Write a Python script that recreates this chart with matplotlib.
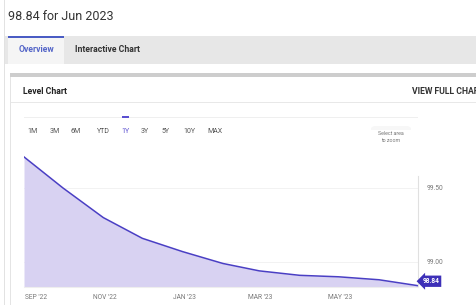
import pandas as pd
import matplotlib.pyplot as plt
import matplotlib.dates as mdates
from matplotlib.patches import Rectangle, FancyBboxPatch
import matplotlib.transforms as mtrans

plt.rcParams['font.family'] = ['Roboto', 'DejaVu Sans']

# monthly level, end of month
dates = pd.to_datetime(["2022-08-31", "2022-09-30", "2022-10-31", "2022-11-30",
                        "2022-12-31", "2023-01-31", "2023-02-28", "2023-03-31",
                        "2023-04-30", "2023-05-31", "2023-06-30"])
values = [99.71, 99.50, 99.30, 99.16, 99.07, 98.99, 98.94, 98.91, 98.90, 98.88, 98.84]
yticks = [99.00, 99.50]
ranges = ["1M", "3M", "6M", "YTD", "1Y", "3Y", "5Y", "10Y", "MAX"]
range_x = [33, 55, 76, 103, 125, 145, 166, 189, 215]

W, H = 477, 305
fig = plt.figure(figsize=(W / 100, H / 100), dpi=100)


def fx(x):
    return x / W


def fy(y):
    return 1 - y / H


def box(x0, y0, x1, y1, color):
    fig.add_artist(Rectangle((fx(x0), fy(y1)), fx(x1) - fx(x0), fy(y0) - fy(y1),
                             transform=fig.transFigure, color=color, lw=0, zorder=0))


# page chrome
box(4, 0, 5, H, "#e2e2e2")
box(5, 36, W, 64, "#e7e7e7")
box(8, 36, 64, 64, "#f5f5f5")
box(8, 36, 64, 38, "#4a5cc4")
box(10, 73, W, 77, "#cdcdcd")
box(10, 77, 11, H, "#e4e4e4")
box(11, 102, W, 103, "#e8e8e8")
box(24, 117, 418, 118, "#efefef")
box(122, 116, 129, 118, "#5b4fd0")

fig.text(fx(8), fy(16), "98.84 for Jun 2023", fontsize=9, color="#333333", va="center")
fig.text(fx(19), fy(50), "Overview", fontsize=6.2, color="#5566c8", fontweight="bold", va="center")
fig.text(fx(75), fy(50), "Interactive Chart", fontsize=6.2, color="#333333", fontweight="bold", va="center")
fig.text(fx(23), fy(91), "Level Chart", fontsize=6.2, color="#222222", fontweight="bold", va="center")
fig.text(fx(412), fy(91), "VIEW FULL CHART", fontsize=6.2, color="#333333", fontweight="bold", va="center")

for lab, x in zip(ranges, range_x):
    c = "#5b4fd0" if lab == "1Y" else "#555555"
    fig.text(fx(x), fy(132), lab, fontsize=5, color=c, ha="center", va="center")

fig.add_artist(FancyBboxPatch((fx(371), fy(148)), fx(40), fy(0) - fy(22),
                              boxstyle="round,pad=0,rounding_size=0.01",
                              transform=fig.transFigure, fc="#f7f7f7", ec="none", zorder=0))
fig.text(fx(391), fy(137), "Select area\nto zoom", fontsize=3.8, color="#777777",
         ha="center", va="center", linespacing=1.3)

# chart
top_px, bot_px = 130, 287
ax = fig.add_axes([fx(24), fy(bot_px), fx(418) - fx(24), fy(top_px) - fy(bot_px)])
ppu = 148.0
ylo = 99.50 - (bot_px - 188) / ppu
yhi = 99.50 + (188 - top_px) / ppu

ax.fill_between(dates, values, ylo, color="#d8d2f2", lw=0)
ax.plot(dates, values, color="#4a3fc4", lw=1.1, solid_joinstyle="round")
ax.set_xlim(dates[0], dates[-1])
ax.set_ylim(ylo, yhi)

ax.xaxis.set_major_locator(mdates.MonthLocator(bymonth=[1, 3, 5, 9, 11]))
ax.set_xticks(ax.get_xticks())
ax.set_xticklabels([mdates.num2date(v).strftime("%b '%y").upper() for v in ax.get_xticks()])
ax.tick_params(axis="x", length=0, labelsize=4.8, labelcolor="#777777", pad=5)
ax.get_xticklabels()[0].set_ha("left")

ax.yaxis.tick_right()
ax.set_yticks(yticks)
ax.set_yticklabels([f"{v:.2f}" for v in yticks])
ax.tick_params(axis="y", length=0, labelsize=4.8, labelcolor="#777777", pad=6)
ax.grid(axis="y", color="#f0f0f0", lw=0.6)
ax.set_axisbelow(True)

for s in ["top", "left"]:
    ax.spines[s].set_visible(False)
ax.spines["right"].set_color("#e0e0e0")
ax.spines["right"].set_linewidth(0.8)
ax.spines["right"].set_bounds(ylo, 99.50 + (188 - 176) / ppu)
ax.spines["bottom"].set_color("#eeeeee")
ax.spines["bottom"].set_linewidth(0.8)

tr = mtrans.blended_transform_factory(ax.transAxes, ax.transData)
ax.text(1.012, values[-1] + 0.03, f"{values[-1]:.2f}", transform=tr, fontsize=4.8,
        color="white", fontweight="bold", va="center", ha="left",
        bbox=dict(boxstyle="larrow,pad=0.25", fc="#3d30b8", ec="none"), clip_on=False)

fig.savefig("out.png", dpi=100)
